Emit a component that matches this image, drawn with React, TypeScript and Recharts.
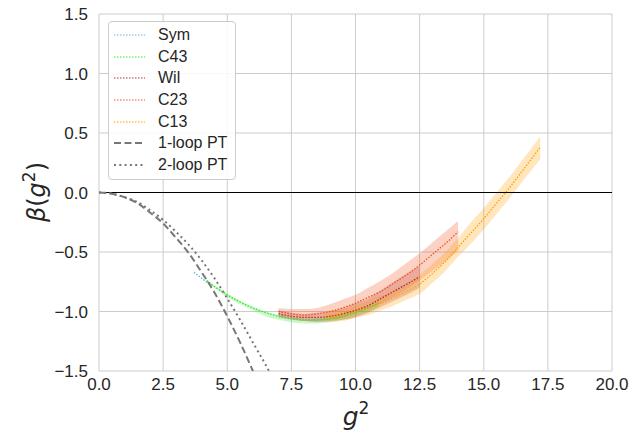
import React from 'react';
import {
  ComposedChart,
  Line,
  Area,
  XAxis,
  YAxis,
  CartesianGrid,
  ReferenceLine,
  Legend,
} from 'recharts';

// beta function estimates per lattice action, with error bands
const SYM_X = [3.7, 4.0, 4.37];
const SYM_Y = [-0.67, -0.72, -0.78];

const C43_X = [4.2, 4.5, 5.0, 5.5, 6.0, 6.5, 7.0, 7.5, 8.0, 8.5, 9.0, 9.5, 10.0, 10.5, 10.9];
const C43_Y = [-0.74, -0.79, -0.86, -0.92, -0.97, -1.01, -1.04, -1.06, -1.07, -1.07, -1.06, -1.04, -1.01, -0.97, -0.93];
const C43_LO = [-0.75, -0.8, -0.88, -0.94, -0.99, -1.04, -1.07, -1.09, -1.1, -1.1, -1.09, -1.07, -1.04, -1.0, -0.96];
const C43_HI = [-0.73, -0.78, -0.85, -0.91, -0.96, -1.0, -1.03, -1.05, -1.06, -1.06, -1.05, -1.03, -1.0, -0.96, -0.92];

const WIL_X = [7.0, 7.5, 8.0, 8.5, 9.0, 9.5, 10.0, 10.5, 11.0, 11.5, 12.0, 12.5];
const WIL_Y = [-1.02, -1.04, -1.05, -1.05, -1.04, -1.02, -0.99, -0.95, -0.89, -0.83, -0.77, -0.71];
const WIL_LO = [-1.05, -1.07, -1.08, -1.09, -1.08, -1.07, -1.05, -1.01, -0.96, -0.91, -0.86, -0.8];
const WIL_HI = [-0.99, -1.01, -1.02, -1.01, -1.0, -0.97, -0.93, -0.89, -0.82, -0.75, -0.68, -0.62];

const C23_X = [7.0, 7.5, 8.0, 8.5, 9.0, 9.5, 10.0, 10.5, 11.0, 11.5, 12.0, 12.5, 13.0, 13.5, 14.0];
const C23_Y = [-1.0, -1.02, -1.03, -1.02, -1.0, -0.97, -0.93, -0.88, -0.83, -0.76, -0.69, -0.61, -0.52, -0.43, -0.33];
const C23_LO = [-1.04, -1.06, -1.08, -1.08, -1.07, -1.05, -1.01, -0.97, -0.93, -0.87, -0.81, -0.74, -0.66, -0.58, -0.49];
const C23_HI = [-0.97, -0.98, -0.98, -0.97, -0.94, -0.9, -0.86, -0.8, -0.74, -0.67, -0.59, -0.51, -0.42, -0.33, -0.24];

const C13_X = [8.8, 9.5, 10.0, 10.5, 11.0, 11.5, 12.0, 12.5, 13.0, 13.5, 14.0, 14.5, 15.0, 15.5, 16.0, 16.5, 17.2];
const C13_Y = [-1.05, -1.03, -1.0, -0.97, -0.93, -0.88, -0.83, -0.77, -0.68, -0.58, -0.46, -0.34, -0.22, -0.09, 0.04, 0.18, 0.38];
const C13_LO = [-1.09, -1.08, -1.05, -1.03, -0.99, -0.95, -0.9, -0.85, -0.76, -0.66, -0.54, -0.43, -0.31, -0.18, -0.05, 0.09, 0.28];
const C13_HI = [-1.01, -0.98, -0.95, -0.91, -0.87, -0.81, -0.76, -0.69, -0.6, -0.5, -0.38, -0.25, -0.13, 0.0, 0.13, 0.27, 0.47];

// perturbative curves
const PT1_X = [0, 0.5, 1, 1.5, 2, 2.5, 3, 3.5, 4, 4.5, 5, 5.5, 6, 6.3];
const PT1_Y = [0, -0.01, -0.04, -0.09, -0.17, -0.26, -0.38, -0.51, -0.67, -0.84, -1.04, -1.26, -1.5, -1.65];
const PT2_X = [0, 0.5, 1, 1.5, 2, 2.5, 3, 3.5, 4, 4.5, 5, 5.5, 6, 6.5, 7.0];
const PT2_Y = [0, -0.01, -0.04, -0.08, -0.15, -0.23, -0.33, -0.44, -0.57, -0.72, -0.89, -1.07, -1.26, -1.45, -1.65];

const X_TICKS = [0, 2.5, 5, 7.5, 10, 12.5, 15, 17.5, 20];
const Y_TICKS = [-1.5, -1, -0.5, 0, 0.5, 1, 1.5];

const FONT = '"Liberation Sans", Arial, sans-serif';
const TICK_COLOR = '#262626';
const GRID = '#cccccc';

const build = (xs: number[], ys: number[], lo?: number[], hi?: number[]) =>
  xs.map((x, i) => ({ x, y: ys[i], band: lo && hi ? [lo[i], hi[i]] : undefined }));

const SERIES = [
  { name: 'Sym', color: '#62b4d6', data: build(SYM_X, SYM_Y), band: false },
  { name: 'C43', color: '#2ee82e', data: build(C43_X, C43_Y, C43_LO, C43_HI), band: true },
  { name: 'Wil', color: '#a83238', data: build(WIL_X, WIL_Y, WIL_LO, WIL_HI), band: true },
  { name: 'C23', color: '#f4511e', data: build(C23_X, C23_Y, C23_LO, C23_HI), band: true },
  { name: 'C13', color: '#ffa000', data: build(C13_X, C13_Y, C13_LO, C13_HI), band: true },
];

const PT = [
  { name: '1-loop PT', data: build(PT1_X, PT1_Y), dash: '7 3.5' },
  { name: '2-loop PT', data: build(PT2_X, PT2_Y), dash: '2 3.3' },
];

const fmt = (v: number) => (v < 0 ? '\u2212' + Math.abs(v).toFixed(1) : v.toFixed(1));

const YLabel = () => (
  <text
    x={45}
    y={192}
    transform="rotate(-90, 45, 192)"
    textAnchor="middle"
    fontFamily='"DejaVu Sans", sans-serif'
    fontSize={24}
    fill={TICK_COLOR}
  >
    <tspan fontStyle="italic">β</tspan>
    <tspan>(</tspan>
    <tspan fontStyle="italic">g</tspan>
    <tspan dy={-10} fontSize={17}>2</tspan>
    <tspan dy={10}>)</tspan>
  </text>
);

const XLabel = () => (
  <text x={356} y={425} textAnchor="middle" fontFamily='"DejaVu Sans", sans-serif' fontSize={25} fill={TICK_COLOR}>
    <tspan fontStyle="italic">g</tspan>
    <tspan dy={-11} fontSize={17}>2</tspan>
  </text>
);

const LegendBox = () => (
  <div
    style={{
      background: 'rgba(255,255,255,0.85)',
      border: `1px solid ${GRID}`,
      borderRadius: 4,
      padding: '2px 6px 3px 5px',
      fontFamily: FONT,
      fontSize: 16,
      color: TICK_COLOR,
      width: 115,
    }}
  >
    {[...SERIES.map((s) => ({ name: s.name, color: s.color, dash: '1.5 1.5', w: 1 })),
      ...PT.map((p) => ({ name: p.name, color: '#777777', dash: p.dash, w: 2 }))].map((e) => (
      <div key={e.name} style={{ display: 'flex', alignItems: 'center', height: 21.7 }}>
        <svg width={31} height={8} style={{ marginRight: 13 }}>
          <line x1={0} y1={4} x2={31} y2={4} stroke={e.color} strokeWidth={e.w} strokeDasharray={e.dash} />
        </svg>
        <span>{e.name}</span>
      </div>
    ))}
  </div>
);

export default function App() {
  return (
    <div style={{ position: 'absolute', left: 0, top: 0, width: 644, height: 434, background: '#fff' }}>
      <ComposedChart width={644} height={434} margin={{ top: 14, right: 32, bottom: 33, left: 0 }}>
        <CartesianGrid stroke={GRID} strokeWidth={1} horizontalValues={Y_TICKS} verticalValues={X_TICKS} />
        <XAxis
          dataKey="x"
          type="number"
          height={30}
          domain={[0, 20]}
          ticks={X_TICKS}
          allowDataOverflow
          axisLine={false}
          tickLine={false}
          tickSize={0}
          tickMargin={7}
          tickFormatter={fmt}
          tick={{ fill: TICK_COLOR, fontSize: 17, fontFamily: FONT }}
          label={{ content: XLabel }}
        />
        <YAxis
          type="number"
          width={99}
          domain={[-1.5, 1.5]}
          ticks={Y_TICKS}
          allowDataOverflow
          axisLine={false}
          tickLine={false}
          tickSize={0}
          tickMargin={11}
          tickFormatter={fmt}
          tick={{ fill: TICK_COLOR, fontSize: 17, fontFamily: FONT }}
          label={{ content: YLabel }}
        />
        <ReferenceLine y={0} stroke="#000" strokeWidth={1} />
        {SERIES.filter((s) => s.band).map((s) => (
          <Area
            key={s.name + '-band'}
            data={s.data}
            dataKey="band"
            type="monotone"
            stroke="none"
            fill={s.color}
            fillOpacity={0.26}
            isAnimationActive={false}
            legendType="none"
          />
        ))}
        {SERIES.map((s) => (
          <Line
            key={s.name}
            name={s.name}
            data={s.data}
            dataKey="y"
            type="monotone"
            stroke={s.color}
            strokeWidth={1.3}
            strokeDasharray="1.5 1.5"
            dot={false}
            isAnimationActive={false}
          />
        ))}
        {PT.map((p) => (
          <Line
            key={p.name}
            name={p.name}
            data={p.data}
            dataKey="y"
            type="monotone"
            stroke="#777777"
            strokeWidth={2}
            strokeDasharray={p.dash}
            dot={false}
            isAnimationActive={false}
          />
        ))}
        <Legend
          layout="vertical"
          align="center"
          verticalAlign="middle"
          content={LegendBox}
          wrapperStyle={{ position: 'absolute', left: 108, top: 21, width: 'auto' }}
        />
      </ComposedChart>
    </div>
  );
}
